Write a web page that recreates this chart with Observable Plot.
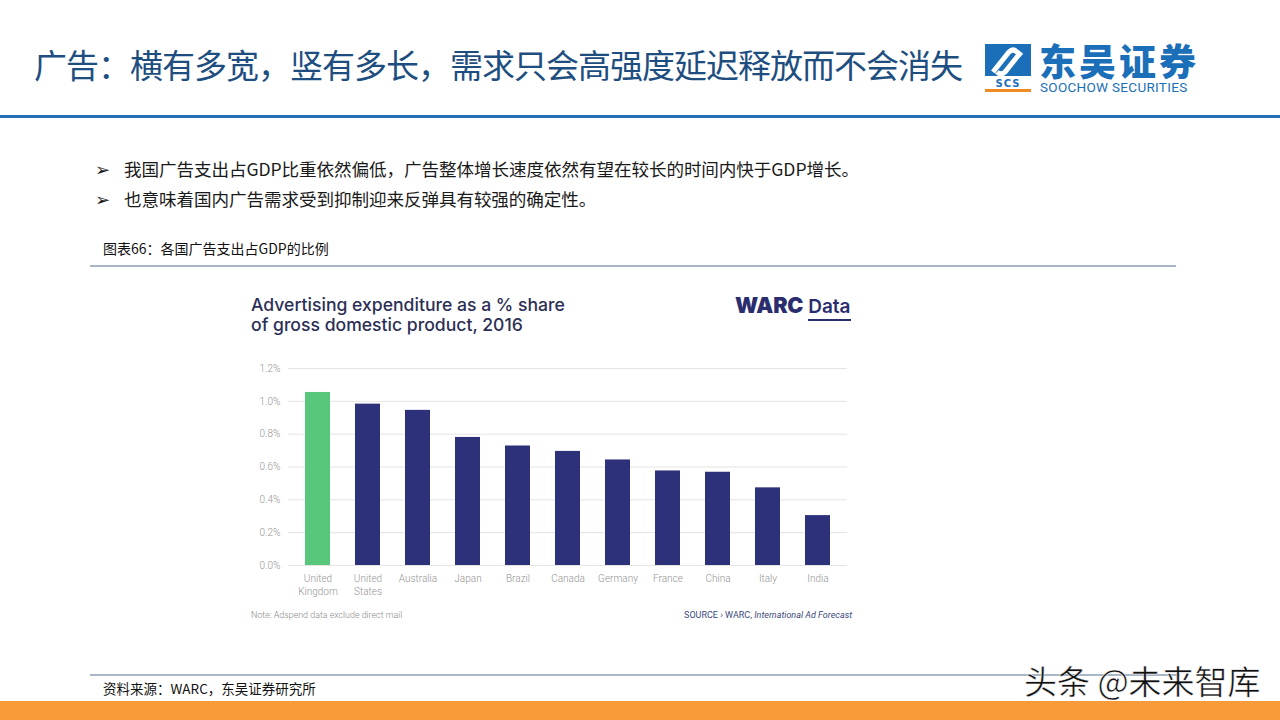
<!DOCTYPE html>
<html><head><meta charset="utf-8">
<script src="https://cdn.jsdelivr.net/npm/d3@7"></script>
<script src="https://cdn.jsdelivr.net/npm/@observablehq/plot@0.6"></script>
<style>
html,body{margin:0;padding:0;width:1280px;height:720px;overflow:hidden;background:#fff;font-family:"Noto Sans CJK SC","Noto Sans",sans-serif;}
.abs{position:absolute;white-space:nowrap;}
#title{left:34px;top:48px;font-size:33px;color:#1e4e80;letter-spacing:-1px;line-height:1;}
#topline{left:0;top:115px;width:1280px;height:3px;background:#2270b5;}
.bullet{left:95px;font-size:17.6px;color:#1a1a1a;line-height:1;letter-spacing:-0.1px;}
.bullet span.m{display:inline-block;width:29px;font-family:"DejaVu Sans";font-size:18px;}
#cap{left:103px;top:241px;font-size:14px;color:#111;line-height:1;}
#capline{left:90px;top:265px;width:1086px;height:1.5px;background:#a8b6c6;}
#botline{left:90px;top:674px;width:1090px;height:1.5px;background:#a8b6c6;}
#src{left:103px;top:682px;font-size:13.5px;color:#111;line-height:1;}
#orange{left:0;top:701px;width:1280px;height:19px;background:#f99b39;}
#wm{left:1024px;top:664px;font-size:33px;color:#111;line-height:1;-webkit-text-stroke:0.5px #fff;letter-spacing:0px;}
#ctitle{left:251px;top:295px;font-family:Inter,sans-serif;font-weight:500;font-size:17.6px;color:#2c2f55;line-height:20px;}
#warc{left:735px;top:295px;font-family:Inter,sans-serif;color:#2b2e6e;line-height:1;}
#warc b{font-weight:900;font-size:21.5px;letter-spacing:-0.2px;}
#warc span{font-weight:600;font-size:19px;margin-left:5px;border-bottom:2.5px solid #2b2e6e;padding-bottom:1px;}
#note{left:251px;top:611px;font-family:Roboto,sans-serif;font-weight:300;font-size:8.9px;color:#8a8a8a;line-height:1;}
#source{right:428px;top:611px;font-family:Roboto,sans-serif;font-size:9px;color:#3d4a7c;line-height:1;}
#chart{left:240px;top:355px;}
#logo-cn{left:1039px;top:42px;font-size:37px;font-weight:900;color:#1b6fb8;letter-spacing:3px;line-height:37px;height:37px;}
#logo-en{left:1040px;top:81px;font-family:Roboto,"Liberation Sans",sans-serif;font-size:13.5px;color:#1b6fb8;line-height:12px;height:12px;letter-spacing:0.3px;}
</style></head>
<body>
<div class="abs" id="title">广告：横有多宽，竖有多长，需求只会高强度延迟释放而不会消失</div>
<svg class="abs" style="left:983px;top:42px" width="52" height="52" viewBox="0 0 52 52">
  <rect x="2" y="2" width="46" height="32" fill="#1b6fb8"/>
  <path d="M10 30 L26 10 Q30 6 34 10 L38 14" stroke="#fff" stroke-width="5" fill="none"/>
  <path d="M14 30 Q18 34 22 30 L38 10" stroke="#fff" stroke-width="5" fill="none"/>
  <text x="25" y="45" text-anchor="middle" font-family="DejaVu Sans" font-weight="bold" font-size="10" fill="#1b6fb8" letter-spacing="1">SCS</text>
  <rect x="2" y="47" width="46" height="3" fill="#f08a24"/>
</svg>
<div class="abs" id="logo-cn">东吴证券</div>
<div class="abs" id="logo-en">SOOCHOW SECURITIES</div>
<div class="abs" id="topline"></div>
<div class="abs bullet" style="top:160px"><span class="m">➢</span>我国广告支出占GDP比重依然偏低，广告整体增长速度依然有望在较长的时间内快于GDP增长。</div>
<div class="abs bullet" style="top:190px"><span class="m">➢</span>也意味着国内广告需求受到抑制迎来反弹具有较强的确定性。</div>
<div class="abs" id="cap">图表66：各国广告支出占GDP的比例</div>
<div class="abs" id="capline"></div>
<div class="abs" id="ctitle">Advertising expenditure as a % share<br>of gross domestic product, 2016</div>
<div class="abs" id="warc"><b>WARC</b><span>Data</span></div>
<div class="abs" id="chart"></div>
<div class="abs" id="note">Note: Adspend data exclude direct mail</div>
<div class="abs" id="source">SOURCE › WARC, <i>International Ad Forecast</i></div>
<div class="abs" id="botline"></div>
<div class="abs" id="src">资料来源：WARC，东吴证券研究所</div>
<div class="abs" id="wm">头条 @未来智库</div>
<div class="abs" id="orange"></div>
<script>
const countries = ["United Kingdom","United States","Australia","Japan","Brazil","Canada","Germany","France","China","Italy","India"];
const countryLabels = ["United\nKingdom","United\nStates","Australia","Japan","Brazil","Canada","Germany","France","China","Italy","India"];
const shares = [1.054, 0.983, 0.945, 0.78, 0.728, 0.695, 0.643, 0.576, 0.568, 0.473, 0.304];
const highlight = ["highlight","other","other","other","other","other","other","other","other","other","other"];
const yTicks = [0, 0.2, 0.4, 0.6, 0.8, 1.0, 1.2];

const data = countries.map((c, i) => ({country: c, value: shares[i], group: highlight[i]}));
const labelOf = new Map(countries.map((c, i) => [c, countryLabels[i]]));

const chart = Plot.plot({
  width: 620,
  height: 250,
  marginLeft: 48,
  marginRight: 13,
  marginTop: 13,
  marginBottom: 40,
  style: {fontFamily: "Roboto, sans-serif", fontWeight: 300, background: "transparent"},
  x: {domain: countries, paddingInner: 0.5, paddingOuter: 0.28, label: null},
  y: {domain: [0, 1.2], label: null},
  color: {domain: ["highlight","other"], range: ["#58c67b","#2d3179"]},
  marks: [
    Plot.ruleY(yTicks, {stroke: "#e4e4e4", strokeWidth: 1}),
    Plot.barY(data, {x: "country", y: "value", fill: "group"}),
    Plot.axisY({ticks: yTicks, tickFormat: d => d.toFixed(1) + "%", tickSize: 0, tickPadding: 8, fontSize: 10, fill: "#949494", label: null}),
    Plot.axisX({tickFormat: d => labelOf.get(d), tickSize: 0, tickPadding: 8, fontSize: 10, fill: "#949494", lineHeight: 1.25, label: null})
  ]
});
document.getElementById("chart").appendChild(chart);
</script>
</body></html>
